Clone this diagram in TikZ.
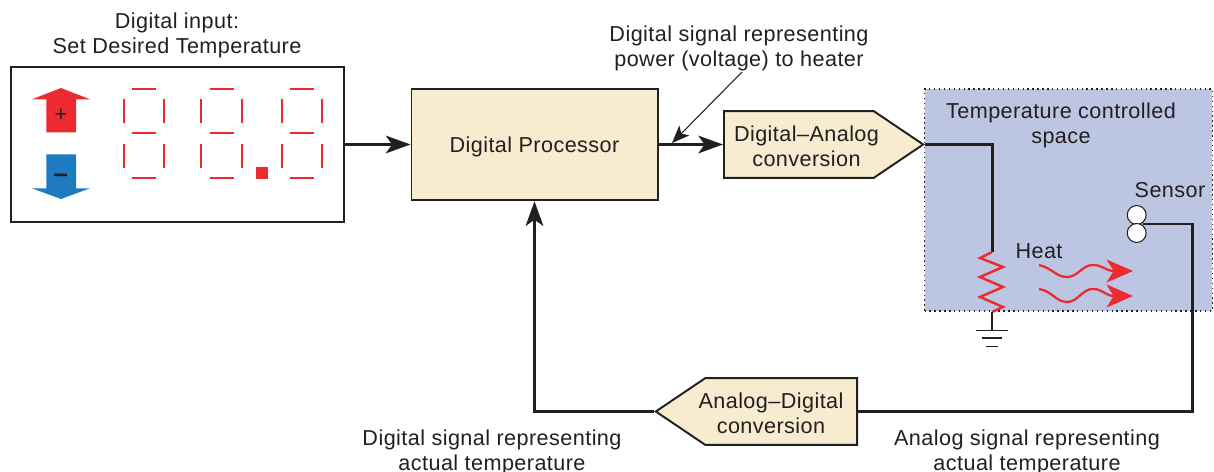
\documentclass[tikz,border=0pt]{standalone}
\usepackage{fontspec}
\setmainfont[LetterSpace=2]{Liberation Sans}
\usetikzlibrary{arrows.meta,shapes.symbols}
\definecolor{boxcream}{HTML}{F7ECCF}
\definecolor{spaceblue}{HTML}{BCC6E3}
\definecolor{ledred}{HTML}{ED2A30}
\definecolor{keyblue}{HTML}{1F7BC0}
\definecolor{inkblack}{HTML}{231F20}
\tikzset{
    label/.style={text=inkblack,align=center,inner sep=0pt,font=\fontsize{12.3}{14.2}\selectfont},
    block/.style={label,draw=inkblack,line width=1.1pt,fill=boxcream},
    converter/.style={block,shape=signal,signal pointer angle=68,minimum height=67*0.567pt},
    wire/.style={draw=inkblack,line width=1.7pt},
    signalwire/.style={wire,-{Stealth[length=14pt,width=10pt,inset=3.5pt]}},
    heatwave/.style={draw=ledred,line width=1.3pt,-{Stealth[length=15pt,width=13pt,inset=4pt]}},
    segment/.style={draw=ledred,line width=1.2pt},
}
\begin{document}
\begin{tikzpicture}[x=0.02cm,y=-0.02cm]
        \useasboundingbox (0,0) rectangle (1214,472);
        % temperature controlled space
        \node (space) [draw=inkblack,dotted,line width=0.8pt,fill=spaceblue,minimum width=289*0.567pt,minimum height=223*0.567pt,inner sep=0pt] at (1068.5,200) {};
        % input panel
        \node (panel) [draw=inkblack,line width=1.1pt,minimum width=335*0.567pt,minimum height=155*0.567pt] at (177.5,144.5) {};
        \fill[ledred] (61,88) -- (90,99.3) -- (76,99.3) -- (76,132.3) -- (46.3,132.3) -- (46.3,99.3) -- (32,99.3) -- cycle;
        \fill[keyblue] (46.3,154.3) -- (76,154.3) -- (76,188.3) -- (90,188.3) -- (61,199) -- (32,188.3) -- (46.3,188.3) -- cycle;
        \node (plus) [label] at (61,115) {+};
        \node (minus) [label,font=\fontsize{15}{15}\selectfont] at (61,178) {\textbf{--}};
        \foreach \dx in {123.7,201.3,281.7} {
            \foreach \dy in {89,133.3,178}
                \draw[segment] (\dx+8.3,\dy) -- (\dx+32.7,\dy);
            \foreach \sx in {0,40.7} {
                \draw[segment] (\dx+\sx,99.3) -- (\dx+\sx,122.7);
                \draw[segment] (\dx+\sx,144) -- (\dx+\sx,167.7);
            }
        }
        \fill[ledred] (256.3,167.3) rectangle (267.7,178.7);
        % blocks
        \node (proc) [block,text depth=0pt,minimum width=247*0.567pt,minimum height=112*0.567pt] at (534.5,144.5) {Digital Processor};
        \node (dac) [converter,signal to=east,anchor=west,minimum width=200*0.567pt] at (723,144.5) {};
        \node (adc) [converter,signal to=west,anchor=east,minimum width=202*0.567pt] at (858,411.5) {};
        \node (dactext) [label] at (806.5,146) {Digital--Analog\\conversion};
        \node (adctext) [label] at (771,413) {Analog--Digital\\conversion};
        % sensor
        \node (sensorA) [circle,draw=inkblack,fill=white,line width=0.6pt,minimum size=19*0.567pt,inner sep=0pt] at (1136.7,215) {};
        \node (sensorB) [circle,draw=inkblack,fill=white,line width=0.6pt,minimum size=19*0.567pt,inner sep=0pt] at (1136.7,233) {};
        % labels
        \node (inlabel) [label] at (177,35) {Digital input:\\Set Desired Temperature};
        \node (powerlabel) [label] at (739,48) {Digital signal representing\\power (voltage) to heater};
        \node (spacelabel) [label] at (1061,125) {Temperature controlled\\space};
        \node (sensorlabel) [label] at (1170,190) {Sensor};
        \node (heatlabel) [label] at (1039,251) {Heat};
        \node (actdlabel) [label] at (492,452) {Digital signal representing\\actual temperature};
        \node (actalabel) [label] at (1027,452) {Analog signal representing\\actual temperature};
        % connectors
        \coordinate (heattop) at (992,252);
        \coordinate (heatend) at (992,312);
        \coordinate (gnd) at (992,330.5);
        \coordinate (leadfrom) at (742,72);
        \coordinate (leadto) at (672,143);
        \coordinate (sensorout) at (1143,224);
        \coordinate (sensorturn) at (1192,224);
        \path [signalwire] (panel.east |- proc.west) -- (proc.west);
        \path [signalwire] (proc.east) -- (dac.west);
        \path [wire] (dac.east) -| (heattop);
        \path [wire] (sensorout) -- (sensorturn) |- (adc.east);
        \path [signalwire] (adc.west) -| (proc.south);
        \draw [inkblack,line width=0.6pt,-{Stealth[length=10pt,width=8pt,inset=2.5pt]}] (leadfrom) -- (leadto);
        \draw [ledred,line width=1.4pt] (heattop) -- (980,258) -- (1003,267) -- (980,277) -- (1003,287) -- (980,297) -- (1003,307) -- (heatend);
        \draw [inkblack,line width=1.2pt] (heatend) -- (gnd);
        \draw [inkblack,line width=1.1pt] (976,330.5) -- (1008,330.5);
        \draw [inkblack,line width=1.1pt] (982,338) -- (1002,338);
        \draw [inkblack,line width=1.1pt] (986,346.5) -- (998,346.5);
        \draw [heatwave] (1039,265) .. controls (1052,268) and (1056,277) .. (1067,277) .. controls (1078,277) and (1082,265) .. (1093,265) .. controls (1103,265) and (1105,271) .. (1133,271);
        \draw [heatwave] (1039,289) .. controls (1052,291) and (1056,302) .. (1067,302) .. controls (1078,302) and (1082,289) .. (1093,289) .. controls (1103,289) and (1105,296) .. (1133,296);
    \end{tikzpicture}
\end{document}
